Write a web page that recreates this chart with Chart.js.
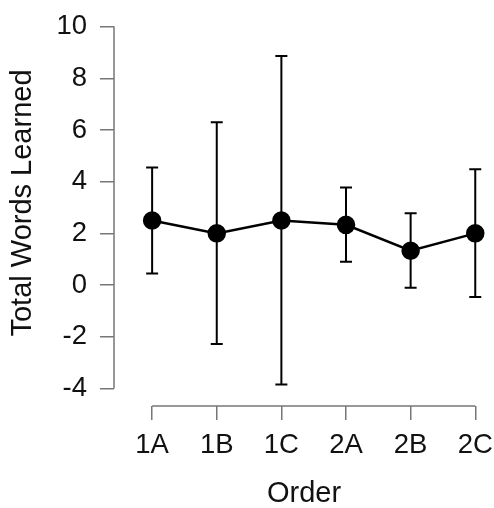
<!DOCTYPE html>
<html>
<head>
<meta charset="utf-8">
<script src="https://cdn.jsdelivr.net/npm/chart.js@4"></script>
<style>
  html, body { margin: 0; padding: 0; background: #fff; }
  #wrap { width: 494px; height: 508px; }
</style>
</head>
<body>
<div id="wrap"><canvas id="my-chart" width="494" height="508"></canvas></div>
<script>
// Words learned by order, mean with error bars
const categories = ['1A', '1B', '1C', '2A', '2B', '2C']
const means = [2.5, 2.0, 2.5, 2.33, 1.33, 2.0]
const lower = [0.45, -2.28, -3.85, 0.9, -0.1, -0.46]
const upper = [4.55, 6.3, 8.86, 3.77, 2.78, 4.48]
const yTicks = [-4, -2, 0, 2, 4, 6, 8, 10]

const axisGray = '#777777'
const ctx = document.getElementById('my-chart')

// error bars + the short R-style axis lines
const errorBars = {
    id: 'errorBars',
    beforeDatasetsDraw(chart) {
        const { ctx, scales: { x, y } } = chart
        ctx.save()
        ctx.strokeStyle = '#000'
        ctx.lineWidth = 2
        for (let i = 0; i < categories.length; i++) {
            const px = x.getPixelForValue(i + 1)
            const top = y.getPixelForValue(upper[i])
            const bot = y.getPixelForValue(lower[i])
            ctx.beginPath()
            ctx.moveTo(px, top)
            ctx.lineTo(px, bot)
            ctx.moveTo(px - 6, top)
            ctx.lineTo(px + 6, top)
            ctx.moveTo(px - 6, bot)
            ctx.lineTo(px + 6, bot)
            ctx.stroke()
        }
        ctx.restore()
    },
    afterDraw(chart) {
        const { ctx, chartArea, scales: { x, y } } = chart
        ctx.save()
        ctx.strokeStyle = axisGray
        ctx.lineWidth = 1.5
        ctx.beginPath()
        ctx.moveTo(chartArea.left, y.getPixelForValue(yTicks[0]))
        ctx.lineTo(chartArea.left, y.getPixelForValue(yTicks[yTicks.length - 1]))
        ctx.moveTo(x.getPixelForValue(1), chartArea.bottom)
        ctx.lineTo(x.getPixelForValue(categories.length), chartArea.bottom)
        ctx.stroke()
        ctx.restore()
    }
}

new Chart(ctx, {
    type: 'line',
    data: {
        datasets: [
            {
                data: means.map((m, i) => ({ x: i + 1, y: m })),
                borderColor: '#000',
                backgroundColor: '#000',
                borderWidth: 2.5,
                pointRadius: 8,
                pointHoverRadius: 8,
                tension: 0
            }
        ]
    },
    options: {
        responsive: false,
        animation: false,
        layout: { padding: 0, autoPadding: false },
        plugins: {
            legend: { display: false },
            tooltip: { enabled: false }
        },
        scales: {
            x: {
                type: 'linear',
                min: 0.41,
                max: 6.29,
                afterBuildTicks: (scale) => {
                    scale.ticks = categories.map((c, i) => ({ value: i + 1 }))
                },
                afterFit: (scale) => {
                    scale.height = 102
                    scale.paddingLeft = 0
                    scale.paddingRight = 0
                },
                border: { display: false },
                grid: {
                    drawOnChartArea: false,
                    drawTicks: true,
                    tickLength: 14,
                    color: axisGray,
                    lineWidth: 1.5
                },
                ticks: {
                    autoSkip: false,
                    maxRotation: 0,
                    padding: 9,
                    color: '#111',
                    font: { family: 'Liberation Sans, Arial', size: 27.5 },
                    callback: (v) => categories[v - 1]
                },
                title: {
                    display: true,
                    text: 'Order',
                    color: '#111',
                    padding: { top: 0, bottom: 0 },
                    font: { family: 'Liberation Sans, Arial', size: 29, lineHeight: 1 }
                }
            },
            y: {
                min: -4.68,
                max: 11.03,
                afterBuildTicks: (scale) => {
                    scale.ticks = yTicks.map((v) => ({ value: v }))
                },
                afterFit: (scale) => {
                    scale.width = 114
                    scale.paddingTop = 0
                    scale.paddingBottom = 0
                },
                border: { display: false },
                grid: {
                    drawOnChartArea: false,
                    drawTicks: true,
                    tickLength: 14,
                    color: axisGray,
                    lineWidth: 1.5
                },
                ticks: {
                    padding: 13,
                    color: '#111',
                    font: { family: 'Liberation Sans, Arial', size: 27.5 }
                },
                title: {
                    display: true,
                    text: 'Total Words Learned',
                    color: '#111',
                    padding: { top: 8, bottom: 0 },
                    font: { family: 'Liberation Sans, Arial', size: 29, lineHeight: 1 }
                }
            }
        }
    },
    plugins: [errorBars]
})
</script>
</body>
</html>
